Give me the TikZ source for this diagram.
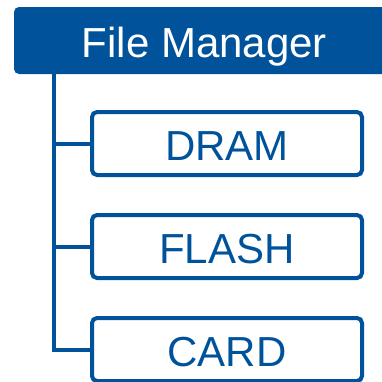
\documentclass[tikz,border=0pt]{standalone}
\usepackage{fontspec}
\setmainfont{Liberation Sans}
\usepackage{tikz}
\usetikzlibrary{positioning}
\definecolor{fmblue}{RGB}{0,83,155}

\begin{document}
\begin{tikzpicture}[node distance=36pt, every node/.style={font=\fontsize{42}{48}\selectfont, text height=33pt, text depth=0pt}]
\tikzset{head/.style={fill=fmblue, text=white, rounded corners=5pt, minimum width=381pt, minimum height=67pt, inner sep=0pt}}
\tikzset{mem/.style={draw=fmblue, line width=4pt, text=fmblue, rounded corners=5pt, minimum width=270pt, minimum height=63pt, inner sep=0pt}}
\useasboundingbox (0,0) rectangle (382pt,-381pt);
\node[head] (fm) at (204.5pt,-40.5pt) {File Manager};
\node[mem] (dram) at (227pt,-143.5pt) {DRAM};
\node[mem, below=of dram] (flash) {FLASH};
\node[mem, below=of flash] (card) {CARD};
\draw[fmblue, line width=4pt] ([xshift=40pt]fm.south west) |- (card.west);
\draw[fmblue, line width=4pt] ([xshift=40pt]fm.south west) |- (dram.west);
\draw[fmblue, line width=4pt] ([xshift=40pt]fm.south west) |- (flash.west);
\end{tikzpicture}
\end{document}
